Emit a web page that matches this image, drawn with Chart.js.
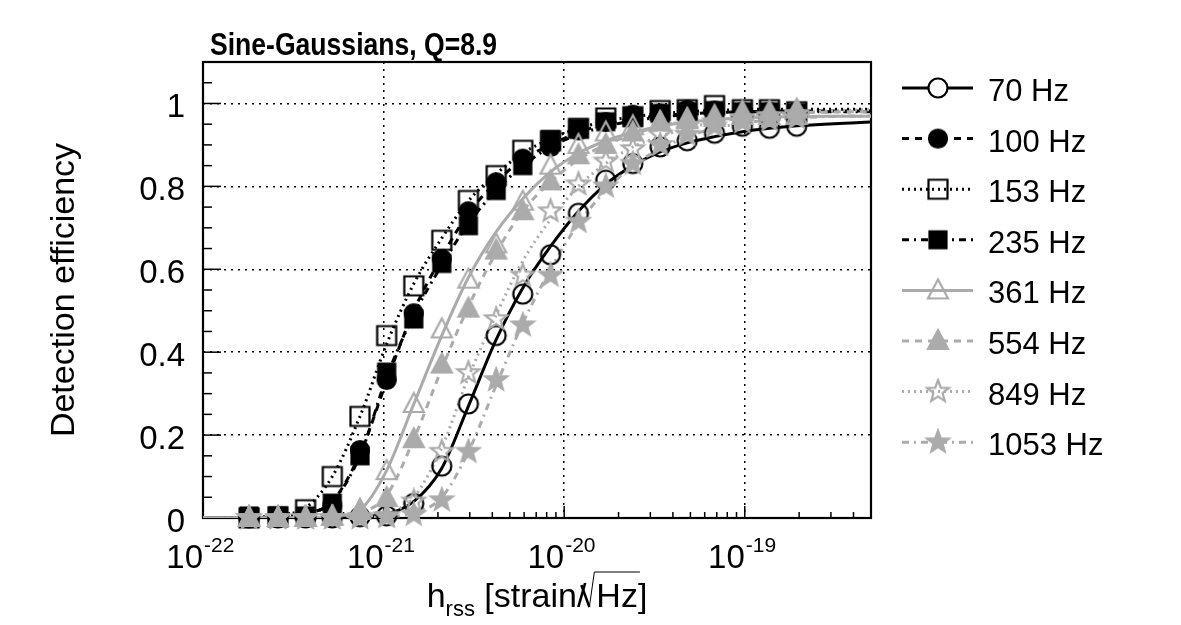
<!DOCTYPE html>
<html>
<head>
<meta charset="utf-8">
<script src="https://cdn.jsdelivr.net/npm/chart.js@4.4.1/dist/chart.umd.min.js"></script>
<style>
html, body { margin: 0; padding: 0; background: #fff; }
#wrap { width: 1181px; height: 625px; position: relative; }
</style>
</head>
<body>
<div id="wrap"><canvas id="effChart"></canvas></div>
<script>
// injected strengths (strain/sqrt(Hz)) at which the efficiency was measured
const hrss = [1.8e-22, 2.6e-22, 3.7e-22, 5.2e-22, 7.4e-22, 1.04e-21, 1.47e-21, 2.1e-21, 2.95e-21, 4.2e-21,
              5.9e-21, 8.4e-21, 1.2e-20, 1.7e-20, 2.4e-20, 3.4e-20, 4.8e-20, 6.8e-20, 9.7e-20, 1.37e-19, 1.94e-19];
const fitHrss = [1e-22, 1.8e-22, 2.6e-22, 3.7e-22, 5.2e-22, 7.4e-22, 1.04e-21, 1.47e-21, 2.1e-21, 2.95e-21, 4.2e-21,
                 5.9e-21, 8.4e-21, 1.2e-20, 1.7e-20, 2.4e-20, 3.4e-20, 4.8e-20, 6.8e-20, 9.7e-20, 1.37e-19, 1.94e-19,
                 2.75e-19, 3.9e-19, 5e-19];

const freqLabels = ["70 Hz", "100 Hz", "153 Hz", "235 Hz", "361 Hz", "554 Hz", "849 Hz", "1053 Hz"];

// measured efficiencies
const eff70   = [0, 0, 0, 0, 0.003, 0.005, 0.035, 0.125, 0.275, 0.44, 0.54, 0.635, 0.735, 0.815, 0.855, 0.895, 0.91, 0.928, 0.945, 0.94, 0.945];
const eff100  = [0, 0, 0.003, 0.03, 0.164, 0.333, 0.494, 0.625, 0.74, 0.81, 0.867, 0.895, 0.935, 0.955, 0.973, 0.976, 0.985, 0.983, 0.98, 0.98, 0.978];
const eff153  = [0, 0.003, 0.02, 0.1, 0.245, 0.44, 0.56, 0.67, 0.766, 0.826, 0.887, 0.91, 0.94, 0.965, 0.968, 0.983, 0.985, 0.995, 0.985, 0.985, 0.98];
const eff235  = [0.005, 0.005, 0.005, 0.036, 0.15, 0.352, 0.48, 0.614, 0.705, 0.79, 0.85, 0.913, 0.94, 0.956, 0.968, 0.976, 0.98, 0.983, 0.98, 0.98, 0.978];
const eff361  = [0, 0, 0, 0.003, 0.02, 0.113, 0.275, 0.455, 0.575, 0.66, 0.763, 0.85, 0.9, 0.93, 0.945, 0.955, 0.96, 0.965, 0.97, 0.97, 0.97];
const eff554  = [0, 0, 0, 0.003, 0.017, 0.048, 0.19, 0.37, 0.505, 0.645, 0.74, 0.812, 0.875, 0.9, 0.93, 0.955, 0.963, 0.97, 0.98, 0.98, 0.985];
const eff849  = [0, 0, 0, 0, 0.003, 0.005, 0.04, 0.16, 0.35, 0.48, 0.585, 0.74, 0.805, 0.86, 0.89, 0.925, 0.945, 0.955, 0.965, 0.97, 0.975];
const eff1053 = [0, 0, 0, 0, 0, 0.003, 0.008, 0.043, 0.16, 0.333, 0.465, 0.585, 0.715, 0.80, 0.855, 0.9, 0.925, 0.945, 0.955, 0.96, 0.965];

// fitted curves, read at fitHrss
const fit70   = [0, 0, 0, 0, 0.001, 0.003, 0.01, 0.04, 0.12, 0.27, 0.43, 0.555, 0.655, 0.74, 0.805, 0.85, 0.883, 0.905, 0.92, 0.932, 0.94, 0.946, 0.95, 0.953, 0.955];
const fit100  = [0, 0.001, 0.003, 0.01, 0.04, 0.155, 0.33, 0.5, 0.63, 0.735, 0.81, 0.865, 0.9, 0.93, 0.95, 0.963, 0.97, 0.975, 0.978, 0.98, 0.981, 0.982, 0.982, 0.982, 0.982];
const fit153  = [0, 0.002, 0.006, 0.025, 0.1, 0.245, 0.42, 0.565, 0.675, 0.765, 0.83, 0.88, 0.915, 0.94, 0.957, 0.968, 0.975, 0.98, 0.983, 0.985, 0.986, 0.986, 0.986, 0.986, 0.986];
const fit235  = [0, 0.001, 0.003, 0.01, 0.04, 0.15, 0.34, 0.49, 0.61, 0.71, 0.79, 0.85, 0.895, 0.925, 0.945, 0.958, 0.967, 0.973, 0.977, 0.979, 0.98, 0.98, 0.98, 0.98, 0.98];
const fit361  = [0, 0, 0, 0.001, 0.004, 0.02, 0.115, 0.275, 0.44, 0.58, 0.69, 0.77, 0.835, 0.88, 0.91, 0.93, 0.945, 0.955, 0.961, 0.965, 0.967, 0.968, 0.969, 0.969, 0.969];
const fit554  = [0, 0, 0, 0.001, 0.003, 0.012, 0.055, 0.19, 0.36, 0.51, 0.64, 0.74, 0.81, 0.865, 0.9, 0.925, 0.945, 0.958, 0.966, 0.972, 0.976, 0.978, 0.979, 0.98, 0.98];
const fit849  = [0, 0, 0, 0, 0.001, 0.003, 0.012, 0.05, 0.17, 0.34, 0.49, 0.62, 0.72, 0.8, 0.855, 0.895, 0.92, 0.94, 0.955, 0.965, 0.972, 0.977, 0.981, 0.984, 0.985];
const fit1053 = [0, 0, 0, 0, 0, 0.001, 0.003, 0.012, 0.05, 0.16, 0.32, 0.47, 0.6, 0.71, 0.79, 0.85, 0.89, 0.92, 0.94, 0.952, 0.96, 0.965, 0.968, 0.97, 0.97];

const yTickValues = [0, 0.2, 0.4, 0.6, 0.8, 1];
const yTickLabels = ["0", "0.2", "0.4", "0.6", "0.8", "1"];
const xTickExponents = [-22, -21, -20, -19];

const effSeries = [eff70, eff100, eff153, eff235, eff361, eff554, eff849, eff1053];
const fitSeries = [fit70, fit100, fit153, fit235, fit361, fit554, fit849, fit1053];

const BLACK = "#000000";
const GRAY = "#ababab";
const FONT = '"Liberation Sans", Arial, Helvetica, sans-serif';

const styles = [
  { color: BLACK, dash: [],           shape: "circle",   filled: false },
  { color: BLACK, dash: [7, 6],       shape: "circle",   filled: true },
  { color: BLACK, dash: [2, 4],       shape: "square",   filled: false },
  { color: BLACK, dash: [7, 5, 2, 5], shape: "square",   filled: true },
  { color: GRAY,  dash: [],           shape: "triangle", filled: false },
  { color: GRAY,  dash: [7, 6],       shape: "triangle", filled: true },
  { color: GRAY,  dash: [2, 4],       shape: "star",     filled: false },
  { color: GRAY,  dash: [7, 5, 2, 5], shape: "star",     filled: true }
];

function makeMarker(st, bg) {
  const s = 28;
  const c = document.createElement("canvas");
  c.width = s; c.height = s;
  const g = c.getContext("2d");
  g.translate(s / 2, s / 2);
  g.lineWidth = 2.2;
  g.strokeStyle = st.color;
  g.fillStyle = st.filled ? st.color : (bg || "rgba(0,0,0,0)");
  g.beginPath();
  if (st.shape === "circle") {
    g.arc(0, 0, st.filled ? 9 : 9.5, 0, Math.PI * 2);
  } else if (st.shape === "square") {
    const h = st.filled ? 8.5 : 9.5;
    g.rect(-h, -h, 2 * h, 2 * h);
  } else if (st.shape === "triangle") {
    g.moveTo(0, -11); g.lineTo(10, 8); g.lineTo(-10, 8); g.closePath();
  } else {
    for (let k = 0; k < 10; k++) {
      const r = k % 2 ? 4.8 : 11.5;
      const a = -Math.PI / 2 + k * Math.PI / 5;
      if (k === 0) g.moveTo(r * Math.cos(a), r * Math.sin(a));
      else g.lineTo(r * Math.cos(a), r * Math.sin(a));
    }
    g.closePath();
  }
  if (st.filled || bg) g.fill();
  g.stroke();
  return c;
}

const markers = styles.map(st => makeMarker(st));
const legendMarkers = styles.map(st => makeMarker(st, st.shape === "circle" ? "#fff" : null));

const datasets = [];
effSeries.forEach((eff, i) => {
  datasets.push({
    label: freqLabels[i],
    data: hrss.map((x, k) => ({ x: x, y: eff[k] })),
    showLine: false,
    pointStyle: markers[i],
    pointRadius: 11,
    pointHoverRadius: 11,
    clip: false,
    order: 7 - i
  });
});
fitSeries.forEach((fit, i) => {
  datasets.push({
    label: freqLabels[i] + " fit",
    data: fitHrss.map((x, k) => ({ x: x, y: fit[k] })),
    showLine: true,
    borderColor: styles[i].color,
    borderWidth: 3,
    borderDash: styles[i].dash,
    pointRadius: 0,
    pointHoverRadius: 0,
    fill: false,
    cubicInterpolationMode: "monotone",
    order: 20 - i
  });
});

function seg(ctx, x1, y1, x2, y2) {
  ctx.beginPath(); ctx.moveTo(x1, y1); ctx.lineTo(x2, y2); ctx.stroke();
}

const decorations = {
  id: "decorations",
  beforeDatasetsDraw(chart) {
    const { ctx, chartArea: a, scales: { x, y } } = chart;
    ctx.save();
    ctx.strokeStyle = "#000";
    ctx.lineWidth = 1.5;
    for (let k = 1; k < 22; k++) {
      const py = y.getPixelForValue(k * 0.05);
      seg(ctx, a.left, py, a.left + (k % 4 === 0 ? 18 : 9), py);
    }
    for (let e = -22; e <= -19; e++) {
      for (let m = 1; m <= 9; m++) {
        const v = m * Math.pow(10, e);
        if (v > 5e-19) break;
        const px = x.getPixelForValue(v);
        seg(ctx, px, a.bottom, px, a.bottom - (m === 1 ? 12 : 6));
      }
    }
    ctx.lineWidth = 2.2;
    ctx.strokeRect(a.left, a.top, a.right - a.left, a.bottom - a.top);
    ctx.restore();
  },
  afterDraw(chart) {
    const { ctx, chartArea: a, scales: { x, y } } = chart;
    ctx.save();
    ctx.fillStyle = "#000";
    ctx.textBaseline = "alphabetic";

    // title (narrow bold face)
    ctx.save();
    ctx.translate(210, 55);
    ctx.scale(0.83, 1);
    ctx.font = "bold 32px " + FONT;
    ctx.textAlign = "left";
    ctx.fillText("Sine-Gaussians, Q=8.9", 0, 0);
    ctx.restore();

    // y tick labels
    ctx.font = "33px " + FONT;
    ctx.textAlign = "right";
    yTickValues.forEach((v, i) => {
      ctx.fillText(yTickLabels[i], a.left - 18, y.getPixelForValue(v) + 14);
    });

    // x tick labels 10^n
    xTickExponents.forEach(e => {
      const px = x.getPixelForValue(Math.pow(10, e));
      ctx.font = "33px " + FONT;
      ctx.textAlign = "right";
      ctx.fillText("10", px, 568);
      ctx.font = "21px " + FONT;
      ctx.textAlign = "left";
      ctx.fillText(String(e), px + 1, 552);
    });

    // y axis title
    ctx.save();
    ctx.translate(74, 290);
    ctx.rotate(-Math.PI / 2);
    ctx.font = "34px " + FONT;
    ctx.textAlign = "center";
    ctx.fillText("Detection efficiency", 0, 0);
    ctx.restore();

    // x axis title: h_rss [strain/sqrt(Hz)]
    const big = "34px " + FONT, small = "22px " + FONT;
    ctx.textAlign = "left";
    ctx.font = big;
    const wH = ctx.measureText("h").width;
    const wOpen = ctx.measureText(" [strain/").width;
    const wHz = ctx.measureText("Hz").width;
    const wClose = ctx.measureText("]").width;
    ctx.font = small;
    const wSub = ctx.measureText("rss").width;
    const wRad = 10;
    const total = wH + wSub + wOpen + wRad + wHz + wClose;
    let cx = (a.left + a.right) / 2 - total / 2;
    const base = 607;
    ctx.font = big;
    ctx.fillText("h", cx, base); cx += wH;
    ctx.font = small;
    ctx.fillText("rss", cx, base + 9); cx += wSub;
    ctx.font = big;
    ctx.fillText(" [strain/", cx, base); cx += wOpen;
    ctx.strokeStyle = "#000";
    ctx.lineWidth = 2.5;
    seg(ctx, cx - 5, base - 22, cx + 3, base);
    ctx.lineWidth = 1;
    ctx.beginPath();
    ctx.moveTo(cx + 3, base);
    ctx.lineTo(cx + 8, base - 35);
    ctx.lineTo(cx + wRad + wHz + 2, base - 35);
    ctx.stroke();
    cx += wRad;
    ctx.fillText("Hz", cx, base); cx += wHz;
    ctx.fillText("]", cx, base);

    // legend
    ctx.font = "31px " + FONT;
    freqLabels.forEach((lab, i) => {
      const ly = 88 + i * 50.6;
      ctx.strokeStyle = styles[i].color;
      ctx.lineWidth = 3;
      ctx.setLineDash(styles[i].dash);
      seg(ctx, 902, ly, 973, ly);
      ctx.setLineDash([]);
      const m = legendMarkers[i];
      ctx.drawImage(m, 938 - m.width / 2, ly - m.height / 2);
      ctx.fillStyle = "#000";
      ctx.fillText(lab, 988, ly + 13);
    });
    ctx.restore();
  }
};

function isDecade(v) {
  const l = Math.log10(v);
  return Math.abs(l - Math.round(l)) < 1e-6;
}

new Chart(document.getElementById("effChart"), {
  type: "line",
  data: { datasets: datasets },
  options: {
    responsive: true,
    maintainAspectRatio: false,
    animation: false,
    events: [],
    layout: { padding: { left: 203, right: 310, top: 62, bottom: 107 } },
    plugins: { legend: { display: false }, tooltip: { enabled: false } },
    scales: {
      x: {
        type: "logarithmic",
        min: 1e-22,
        max: 5e-19,
        ticks: { display: false },
        border: { display: false, dash: [2, 5] },
        grid: {
          drawTicks: false,
          lineWidth: 1.5,
          color: c => {
            const v = c.tick && c.tick.value;
            return (v && v > 1.5e-22 && v < 4.9e-19 && isDecade(v)) ? "#000" : "rgba(0,0,0,0)";
          }
        }
      },
      y: {
        min: 0,
        max: 1.1,
        ticks: { display: false, stepSize: 0.2 },
        border: { display: false, dash: [2, 5] },
        grid: {
          drawTicks: false,
          lineWidth: 1.5,
          color: c => {
            const v = c.tick && c.tick.value;
            return (v > 0.01 && v < 1.05) ? "#000" : "rgba(0,0,0,0)";
          }
        }
      }
    }
  },
  plugins: [decorations]
});
</script>
</body>
</html>
